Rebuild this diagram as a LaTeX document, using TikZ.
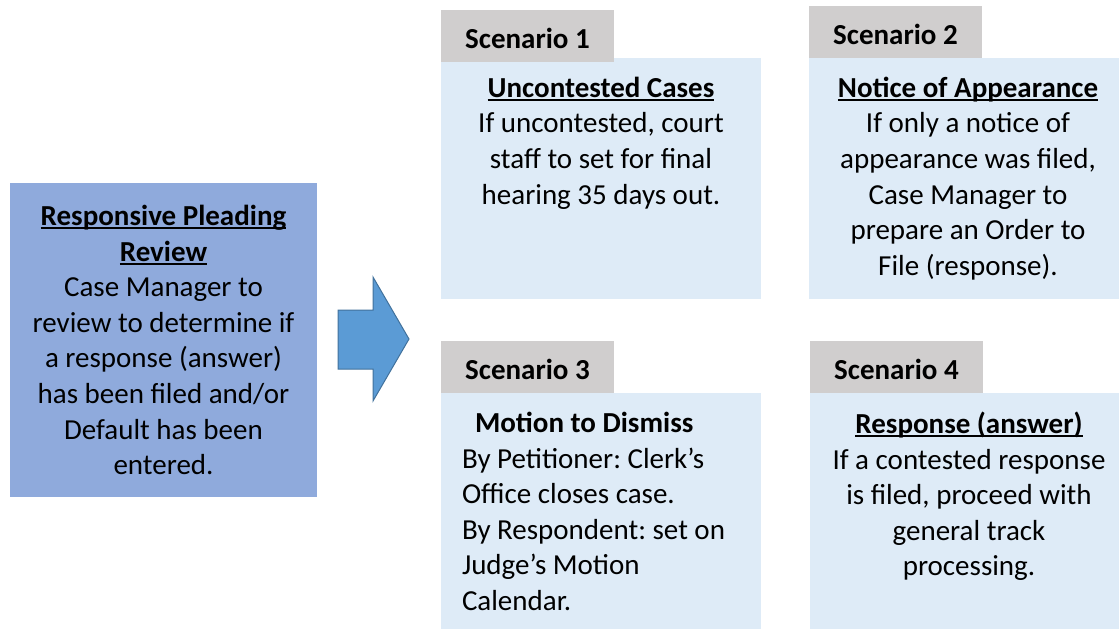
\documentclass[tikz,border=0pt]{standalone}
\usepackage{fontspec}
\setmainfont{Carlito}
\frenchspacing
\usetikzlibrary{positioning}
\definecolor{reviewblue}{HTML}{8FAADC}
\definecolor{arrowblue}{HTML}{5B9BD5}
\definecolor{arrowedge}{HTML}{41719C}
\definecolor{tabgray}{HTML}{D0CECE}
\definecolor{paleblue}{HTML}{DEEBF7}
\newcommand{\bodysize}{\fontsize{29}{35.6}\selectfont}
\newsavebox{\headbox}
\newcommand{\headline}[1]{\sbox{\headbox}{\textbf{#1}}\rlap{\rule[-3.5pt]{\wd\headbox}{1.6pt}}\usebox{\headbox}}
\tikzstyle{reviewbox}=[fill=reviewblue, minimum width=307pt, minimum height=314pt,
	inner sep=0pt, align=center, font=\bodysize]
\tikzstyle{casebox}=[fill=paleblue, minimum width=320pt, minimum height=241pt, inner sep=0pt]
\tikzstyle{tabbox}=[fill=tabgray, minimum width=173pt, minimum height=52pt, inner sep=0pt,
	text height=26pt, text depth=0pt, font=\bodysize\bfseries]
\tikzstyle{casetext}=[inner sep=0pt, align=center, font=\bodysize]
\tikzstyle{bigarrow}=[fill=arrowblue, draw=arrowedge, line width=1pt]

\begin{document}
\begin{tikzpicture}[x=1pt,y=-1pt]%
	\useasboundingbox (0,0) rectangle (1119,630);
	% review box
	\node[reviewbox] (review) at (163.5,340) {\headline{Responsive Pleading}\\\headline{Review}\\Case Manager to\\review to determine if\\a response (answer)\\has been filed and/or\\Default has been\\entered.};
	\draw[bigarrow] (338,310) -- (373,310) -- (373,277) -- (409,339) -- (373,401) -- (373,369) -- (338,369) -- cycle;

	% scenario boxes
	\node[casebox] (box1) at (601,178.5) {};
	\node[casebox, minimum width=310pt] (box2) at (964,178.5) {};
	\node[casebox, minimum height=236pt] (box3) at (601,511) {};
	\node[casebox, minimum width=310pt, minimum height=236pt] (box4) at (965,511) {};

	\node[tabbox, above right=-4pt and 0pt of box1.north west] (tab1) {Scenario 1};
	\node[tabbox, above right=0pt and 0pt of box2.north west] (tab2) {Scenario 2};
	\node[tabbox, above right=0pt and 0pt of box3.north west] (tab3) {Scenario 3};
	\node[tabbox, above right=0pt and 0pt of box4.north west] (tab4) {Scenario 4};

	\node[casetext, below=19pt of box1.north] (txt1) {\headline{Uncontested Cases}\\If uncontested, court\\staff to set for final\\hearing 35 days out.};
	\node[casetext, below=19pt of box2.north, xshift=4pt] (txt2) {\headline{Notice of Appearance}\\If only a notice of\\appearance was filed,\\Case Manager to\\prepare an Order to\\File (response).};
	\node[casetext, align=left, below right=19pt and 21pt of box3.north west] (txt3) {\hspace*{13pt}\textbf{Motion to Dismiss}\\By Petitioner: Clerk’s\\Office closes case.\\By Respondent: set on\\Judge’s Motion\\Calendar.};
	\node[casetext, below=19pt of box4.north, xshift=4pt] (txt4) {\headline{Response (answer)}\\If a contested response\\is filed, proceed with\\general track\\processing.};
\end{tikzpicture}
\end{document}
